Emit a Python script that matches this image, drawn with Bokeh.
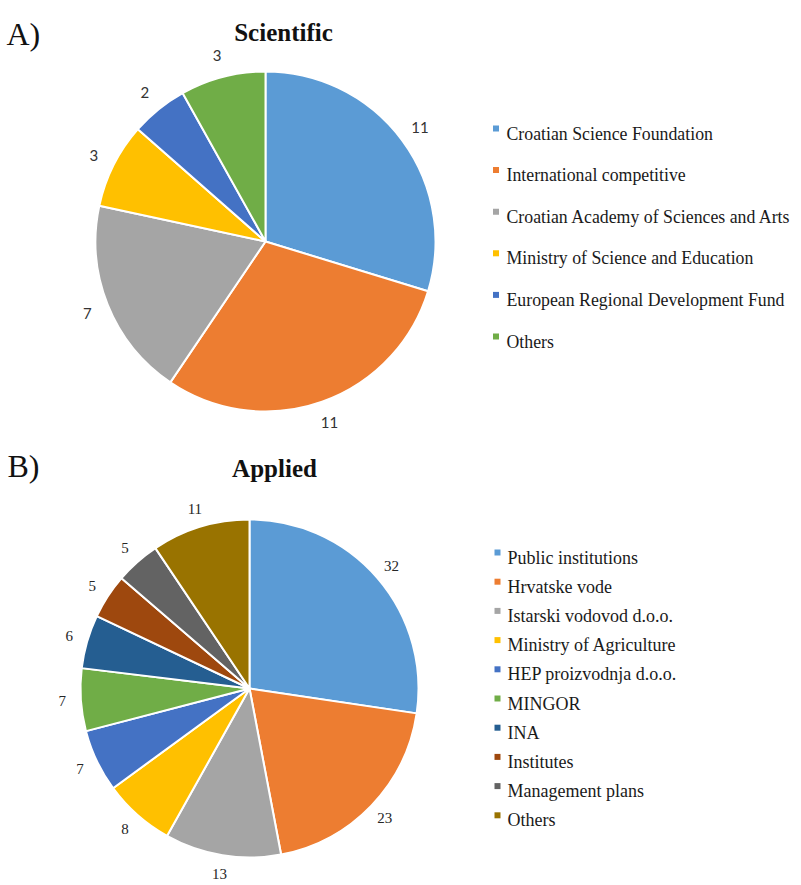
import math
from bokeh.plotting import figure
from bokeh.models import Range1d, ColumnDataSource
from bokeh.core.properties import value
from bokeh.embed import file_html
from bokeh.resources import INLINE

# ---------------- data ----------------
sci_categories = ["Croatian Science Foundation", "International competitive",
                  "Croatian Academy of Sciences and Arts", "Ministry of Science and Education",
                  "European Regional Development Fund", "Others"]
sci_values = [11, 11, 7, 3, 2, 3]
sci_colors = ["#5B9BD5", "#ED7D31", "#A5A5A5", "#FFC000", "#4472C4", "#70AD47"]

app_categories = ["Public institutions", "Hrvatske vode", "Istarski vodovod d.o.o.",
                  "Ministry of Agriculture", "HEP proizvodnja d.o.o.", "MINGOR", "INA",
                  "Institutes", "Management plans", "Others"]
app_values = [32, 23, 13, 8, 7, 7, 6, 5, 5, 11]
app_colors = ["#5B9BD5", "#ED7D31", "#A5A5A5", "#FFC000", "#4472C4", "#70AD47",
              "#255E91", "#9E480E", "#636363", "#997300"]

# ---------------- layout ----------------
IMG_H = 885
W, H = 800, 884


def Y(y):
    return IMG_H - y


p = figure(width=W, height=H, output_backend="svg", toolbar_location=None,
           x_range=Range1d(0, W), y_range=Range1d(IMG_H - H, IMG_H),
           min_border=0, x_axis_location=None, y_axis_location=None,
           outline_line_color=None, background_fill_color="white",
           border_fill_color="white")
p.grid.visible = False

SERIF = value("Liberation Serif")


def pie(values, colors, cx, cy, r, k, lab_font, lab_size, lab_color):
    total = float(sum(values))
    starts, ends, lx, ly, labs = [], [], [], [], []
    cum = 0.0
    for v in values:
        a0 = math.pi / 2 - 2 * math.pi * cum / total
        mid = math.pi / 2 - 2 * math.pi * (cum + v / 2.0) / total
        cum += v
        a1 = math.pi / 2 - 2 * math.pi * cum / total
        starts.append(a0)
        ends.append(a1)
        lx.append(cx + k * r * math.cos(mid))
        ly.append(Y(cy) + k * r * math.sin(mid))
        labs.append(str(v))
    src = ColumnDataSource(dict(s=starts, e=ends, c=colors))
    p.wedge(x=cx, y=Y(cy), radius=r, start_angle="s", end_angle="e",
            direction="clock", fill_color="c", line_color="white",
            line_width=2, source=src)
    p.text(x=lx, y=ly, text=labs, text_align="center", text_baseline="middle",
           text_font=lab_font, text_font_size=lab_size, text_color=lab_color)


def legend(cats, colors, mx, tx, base0, step, size):
    bases = [base0 + i * step for i in range(len(cats))]
    p.scatter(x=[mx] * len(cats), y=[Y(b - 5) for b in bases], marker="square",
              size=6, fill_color=colors, line_color=None)
    p.text(x=[tx] * len(cats), y=[Y(b) for b in bases], text=cats,
           text_align="left", text_baseline="alphabetic", text_font=SERIF,
           text_font_size=size, text_color="#1a1a1a")


# ---------------- panel A ----------------
p.text(x=[6], y=[Y(33)], text=["A)"], text_font=SERIF, text_font_size="32px",
       text_color="#111111", text_baseline="alphabetic")
p.text(x=[283], y=[Y(32)], text=["Scientific"], text_font=SERIF,
       text_font_size="25px", text_font_style="bold", text_align="center",
       text_color="#111111", text_baseline="alphabetic")
pie(sci_values, sci_colors, 265, 241, 170, 1.13, value("Lato"), "15px", "#333333")
legend(sci_categories, sci_colors, 495.5, 506, 133, 41.6, "17.8px")

# ---------------- panel B ----------------
p.text(x=[7], y=[Y(465)], text=["B)"], text_font=SERIF, text_font_size="32px",
       text_color="#111111", text_baseline="alphabetic")
p.text(x=[274], y=[Y(468)], text=["Applied"], text_font=SERIF,
       text_font_size="25px", text_font_style="bold", text_align="center",
       text_color="#111111", text_baseline="alphabetic")
pie(app_values, app_colors, 249, 688, 169, 1.11, SERIF, "15px", "#262626")
legend(app_categories, app_colors, 497, 507, 557, 29.2, "18px")

open("out.html", "w").write(file_html(p, INLINE))
